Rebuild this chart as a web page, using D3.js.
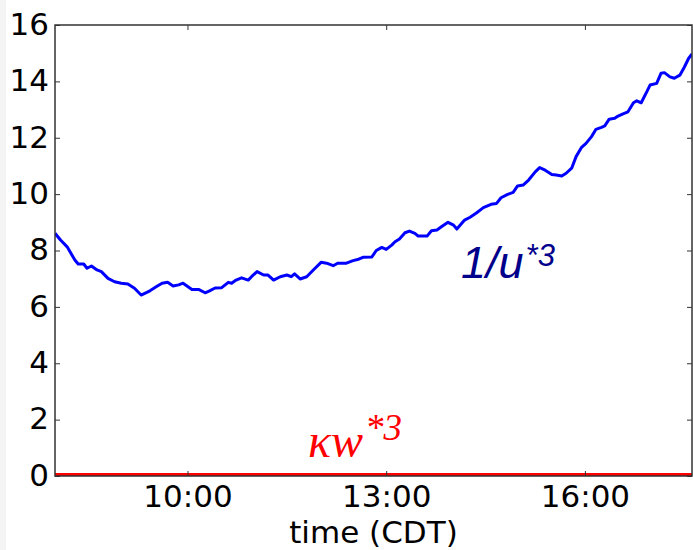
<!DOCTYPE html>
<html>
<head>
<meta charset="utf-8">
<script src="https://cdn.jsdelivr.net/npm/d3@7"></script>
<style>
  body { margin: 0; background: #fff; }
  svg { display: block; }
</style>
</head>
<body>
<svg id="chart"></svg>
<script>
// values
const times = [
  "08:00","08:05","08:11","08:18","08:21","08:26","08:29","08:33","08:38","08:42",
  "08:48","08:54","09:00","09:06","09:12","09:18","09:26","09:32","09:37","09:42",
  "09:47","09:52","09:56","10:04","10:10","10:16","10:20","10:25","10:31","10:37",
  "10:40","10:44","10:49","10:55","10:58","11:03","11:09","11:13","11:18","11:24",
  "11:30","11:34","11:37","11:42","11:48","11:54","12:01","12:06","12:12","12:16",
  "12:24","12:30","12:35","12:39","12:47","12:51","12:56","13:00","13:05","13:08",
  "13:12","13:17","13:21","13:26","13:29","13:37","13:41","13:46","13:50","13:56",
  "14:01","14:04","14:11","14:16","14:22","14:28","14:35","14:40","14:44","14:50",
  "14:55","14:59","15:04","15:09","15:15","15:19","15:24","15:30","15:34","15:39",
  "15:43","15:48","15:52","15:57","16:01","16:06","16:10","16:15","16:18","16:22",
  "16:27","16:30","16:34","16:39","16:44","16:47","16:51","16:56","16:59","17:05",
  "17:09","17:12","17:17","17:21","17:26","17:30","17:34","17:37"
];
const invU3 = [
  8.61, 8.37, 8.13, 7.66, 7.52, 7.52, 7.37, 7.45, 7.31, 7.25,
  7.01, 6.89, 6.84, 6.81, 6.66, 6.42, 6.57, 6.72, 6.84, 6.87,
  6.74, 6.78, 6.84, 6.62, 6.62, 6.50, 6.57, 6.67, 6.68, 6.87,
  6.84, 6.95, 7.03, 6.95, 7.07, 7.25, 7.13, 7.13, 6.95, 7.07,
  7.13, 7.07, 7.17, 6.99, 7.07, 7.31, 7.58, 7.55, 7.46, 7.55,
  7.55, 7.64, 7.69, 7.76, 7.77, 8.00, 8.11, 8.04, 8.19, 8.31,
  8.41, 8.63, 8.69, 8.61, 8.51, 8.51, 8.70, 8.73, 8.84, 9.00,
  8.90, 8.76, 9.08, 9.18, 9.34, 9.52, 9.64, 9.67, 9.87, 9.99,
  10.06, 10.29, 10.32, 10.50, 10.79, 10.94, 10.85, 10.70, 10.68, 10.64,
  10.74, 10.92, 11.33, 11.66, 11.80, 12.04, 12.30, 12.37, 12.42, 12.66,
  12.69, 12.77, 12.84, 12.92, 13.24, 13.31, 13.24, 13.63, 13.87, 13.93,
  14.29, 14.31, 14.16, 14.11, 14.22, 14.50, 14.82, 14.97
];
// kw*3 stays essentially at zero all day
const kwTimes = ["08:00", "17:37"];
const kwW3 = [0.04, 0.04];

const xTickLabels = ["10:00", "13:00", "16:00"];
const yTicks = [0, 2, 4, 6, 8, 10, 12, 14, 16];
const timeDomain = ["08:00", "17:37"];

const width = 693, height = 550;
const margin = { top: 25, right: 1, bottom: 74, left: 55 };
const parseTime = d3.timeParse("%H:%M");

const svg = d3.select("#chart").attr("width", width).attr("height", height);
svg.append("rect").attr("width", width).attr("height", height).attr("fill", "#fff");
svg.append("rect").attr("width", 6).attr("height", height).attr("fill", "#f4f4f4");

const x = d3.scaleTime()
  .domain(timeDomain.map(parseTime))
  .range([margin.left, width - margin.right]);
const y = d3.scaleLinear()
  .domain([0, 16])
  .range([height - margin.bottom, margin.top]);

const plotW = width - margin.right - margin.left;
const plotH = height - margin.bottom - margin.top;

svg.append("defs").append("clipPath").attr("id", "clip")
  .append("rect")
  .attr("x", margin.left).attr("y", margin.top)
  .attr("width", plotW).attr("height", plotH);

const line = d3.line()
  .x((d) => x(d.t))
  .y((d) => y(d.v))
  .curve(d3.curveLinear);

const blueData = times.map((t, i) => ({ t: parseTime(t), v: invU3[i] }));
const redData = kwTimes.map((t, i) => ({ t: parseTime(t), v: kwW3[i] }));

const lines = svg.append("g").attr("clip-path", "url(#clip)");
lines.append("path")
  .datum(blueData)
  .attr("d", line)
  .attr("fill", "none")
  .attr("stroke", "#0000ff")
  .attr("stroke-width", 3)
  .attr("stroke-linejoin", "round");
lines.append("path")
  .datum(redData)
  .attr("d", line)
  .attr("fill", "none")
  .attr("stroke", "#ff0000")
  .attr("stroke-width", 3.5);

// axes (ticks point inward like matplotlib classic style)
const font = "'DejaVu Sans', sans-serif";
const xTickVals = xTickLabels.map(parseTime);

const styleAxis = (g) => {
  g.select(".domain").remove();
  g.selectAll(".tick line").attr("stroke", "#333").attr("stroke-width", 1);
  g.selectAll(".tick text")
    .attr("fill", "#000")
    .style("font-family", font)
    .style("font-size", "31px");
};

svg.append("g")
  .attr("transform", `translate(0,${height - margin.bottom})`)
  .call(d3.axisBottom(x).tickValues(xTickVals).tickFormat(d3.timeFormat("%H:%M"))
    .tickSize(-5).tickPadding(9))
  .call(styleAxis);
svg.append("g")
  .attr("transform", `translate(0,${margin.top})`)
  .call(d3.axisTop(x).tickValues(xTickVals).tickFormat("").tickSize(-5))
  .call(styleAxis);
svg.append("g")
  .attr("transform", `translate(${margin.left},0)`)
  .call(d3.axisLeft(y).tickValues(yTicks).tickSize(-5).tickPadding(6))
  .call(styleAxis)
  .call((g) => g.selectAll(".tick text").attr("dy", "0.3em"));
svg.append("g")
  .attr("transform", `translate(${width - margin.right},0)`)
  .call(d3.axisRight(y).tickValues(yTicks).tickFormat("").tickSize(-5))
  .call(styleAxis);

// spines
svg.append("rect")
  .attr("x", margin.left).attr("y", margin.top)
  .attr("width", plotW).attr("height", plotH)
  .attr("fill", "none")
  .attr("stroke", "#333")
  .attr("stroke-width", 1.5);

// axis label
svg.append("text")
  .attr("x", margin.left + plotW / 2)
  .attr("y", 543)
  .attr("text-anchor", "middle")
  .style("font-family", font)
  .style("font-size", "31px")
  .text("time (CDT)");

// annotations
const uLabel = svg.append("text")
  .attr("x", 461)
  .attr("y", 278)
  .attr("fill", "#00008b")
  .style("font-family", "'Liberation Sans', Arial, sans-serif")
  .style("font-style", "italic")
  .style("font-size", "45px");
uLabel.append("tspan").text("1/u");
uLabel.append("tspan").attr("dx", 2).attr("dy", -12).style("font-size", "31px").text("*3");

const kwLabel = svg.append("text")
  .attr("x", 308)
  .attr("y", 457)
  .attr("fill", "#ff0000")
  .style("font-family", "'Liberation Serif', 'Times New Roman', serif")
  .style("font-style", "italic")
  .style("font-size", "48px");
kwLabel.append("tspan").text("κw");
kwLabel.append("tspan").attr("dx", 2).attr("dy", -17).style("font-size", "37px").text("*3");
</script>
</body>
</html>
